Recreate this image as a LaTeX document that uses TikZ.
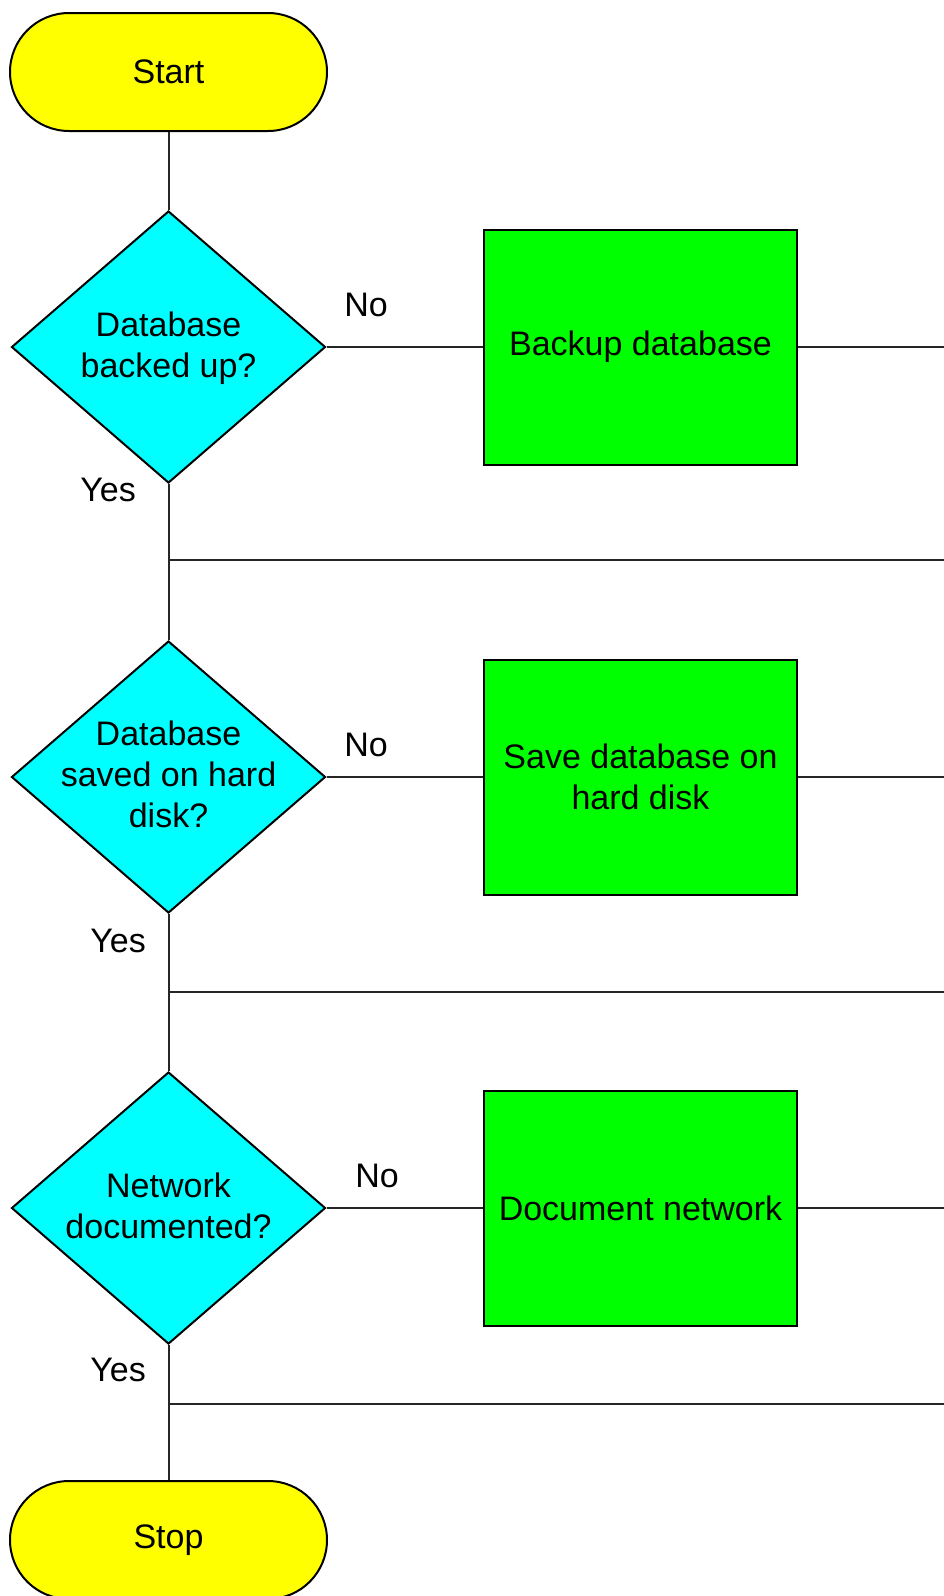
\documentclass[tikz,border=0pt]{standalone}
\usepackage{fontspec}
\setmainfont{Liberation Sans}
\usetikzlibrary{shapes.geometric,shapes.misc}
\definecolor{termyellow}{HTML}{FFFF00}
\definecolor{deccyan}{HTML}{00FFFF}
\definecolor{procgreen}{HTML}{00FF00}
\newcommand{\dtext}[1]{\smash{\makebox[0pt]{\raisebox{-8pt}{\begin{tabular}{@{}c@{}}#1\end{tabular}}}}}
\begin{document}
\begin{tikzpicture}[x=1pt,y=-1pt,
  font=\fontsize{34}{41}\selectfont,
  terminal/.style={rounded rectangle, draw=black, line width=2pt, fill=termyellow,
    minimum width=317pt, minimum height=118pt, inner sep=0pt},
  decision/.style={diamond, draw=black, line width=2pt, fill=deccyan,
    minimum width=314pt, minimum height=272pt, inner sep=0pt},
  process/.style={rectangle, draw=black, line width=2pt, fill=procgreen,
    minimum width=313pt, minimum height=235pt, align=center, inner sep=0pt},
  conn/.style={line width=2pt, draw=black!85},
  lbl/.style={inner sep=0pt}]
\useasboundingbox (0,0) rectangle (944,1596);

% shapes
\node[terminal] (start) at (168.5,72) {Start};
\node[decision] (d1) at (168.5,347) {\dtext{Database\\backed up?}};
\node[process] (b1) at (640.5,347) {Backup database};
\node[decision] (d2) at (168.5,777) {\dtext{Database\\saved on hard\\disk?}};
\node[process] (b2) at (640.5,777) {Save database on\\hard disk};
\node[decision] (d3) at (168.5,1208) {\dtext{Network\\documented?}};
\node[process] (b3) at (640.5,1208) {Document network};
\node[terminal] (stop) at (168.5,1540) {Stop};

% junction coordinates
\coordinate (j1) at (168.5,560);
\coordinate (j1e) at (944,560);
\coordinate (j2) at (168.5,992);
\coordinate (j2e) at (944,992);
\coordinate (j3) at (168.5,1404);
\coordinate (j3e) at (944,1404);
\coordinate (e1) at (944,347);
\coordinate (e2) at (944,777);
\coordinate (e3) at (944,1208);

% connectors
\draw[conn] (start.south) -- (d1.north);
\draw[conn] (d1.east) -- (b1.west);
\draw[conn] (b1.east) -- (e1);
\draw[conn] (d1.south) -- (j1) -- (d2.north);
\draw[conn] (j1) -- (j1e);
\draw[conn] (d2.east) -- (b2.west);
\draw[conn] (b2.east) -- (e2);
\draw[conn] (d2.south) -- (j2) -- (d3.north);
\draw[conn] (j2) -- (j2e);
\draw[conn] (d3.east) -- (b3.west);
\draw[conn] (b3.east) -- (e3);
\draw[conn] (d3.south) -- (j3) -- (stop.north);
\draw[conn] (j3) -- (j3e);

% labels
\node[lbl] (no1) at (366,305) {No};
\node[lbl] (yes1) at (108,490) {Yes};
\node[lbl] (no2) at (366,745) {No};
\node[lbl] (yes2) at (118,941) {Yes};
\node[lbl] (no3) at (377,1176) {No};
\node[lbl] (yes3) at (118,1370) {Yes};
\end{tikzpicture}
\end{document}
